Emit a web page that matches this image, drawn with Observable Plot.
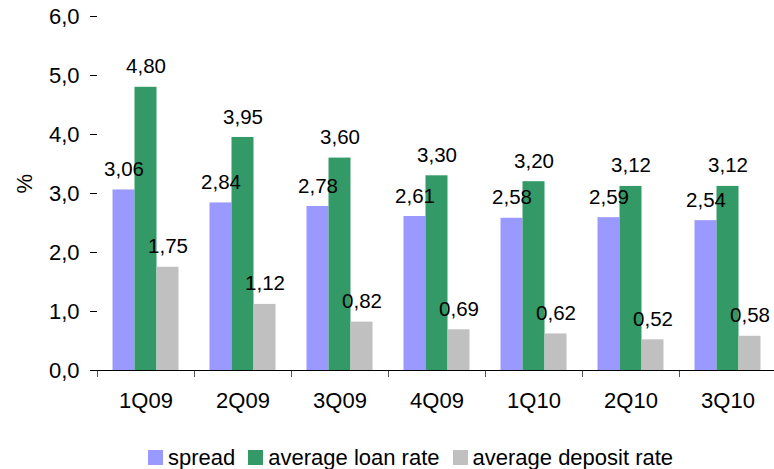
<!DOCTYPE html>
<html>
<head>
<meta charset="utf-8">
<script src="https://cdn.jsdelivr.net/npm/d3@7"></script>
<script src="https://cdn.jsdelivr.net/npm/@observablehq/plot@0.6"></script>
<style>
  html, body { margin: 0; padding: 0; background: #fff; overflow: hidden; }
  #chart { position: relative; width: 774px; height: 469px; }
  #legend { position: absolute; left: 148px; top: 441px; margin: 0 !important; line-height: 1; }
  .lg-swatch { margin-right: 13px !important; line-height: 1; }
  .lg-swatch > svg { margin-right: 5px !important; }
</style>
</head>
<body>
<div id="chart"></div>
<script>
const categories = ["1Q09", "2Q09", "3Q09", "4Q09", "1Q10", "2Q10", "3Q10"];
const spread = [3.06, 2.84, 2.78, 2.61, 2.58, 2.59, 2.54];
const loanRate = [4.80, 3.95, 3.60, 3.30, 3.20, 3.12, 3.12];
const depositRate = [1.75, 1.12, 0.82, 0.69, 0.62, 0.52, 0.58];
const seriesNames = ["spread", "average loan rate", "average deposit rate"];
const seriesColors = ["#9999FF", "#339966", "#C0C0C0"];
const yTicks = [0, 1, 2, 3, 4, 5, 6];
const yTitle = "%";

const seriesValues = [spread, loanRate, depositRate];
const fmt = d => d.toFixed(2).replace(".", ",");
const font = "'Liberation Sans', Arial, sans-serif";
const axisFs = 22;
const labelFs = 20.5;

const bandWidth = 97;
const barWidth = 22;
const inset = (bandWidth - barWidth) / 2;

const barMarks = [];
const labelMarks = [];
seriesValues.forEach((vals, s) => {
  const rows = categories.map((c, i) => ({cat: c, value: vals[i]}));
  const dx = (s - 1) * barWidth;
  barMarks.push(Plot.barY(rows, {
    x: "cat", y: "value", fill: seriesColors[s],
    insetLeft: inset, insetRight: inset, dx
  }));
  labelMarks.push(Plot.text(rows, {
    x: "cat", y: "value", text: d => fmt(d.value),
    dx, dy: -20.5, fill: "#000", fontSize: labelFs
  }));
});

const marks = [
  ...barMarks,
  ...labelMarks,
  // category boundary tick marks on the x axis
  Plot.ruleX(categories, {x: d => d, dx: -bandWidth / 2, y1: 0, y2: -0.12, stroke: "#555"}),
  Plot.ruleY([0], {stroke: "#000"}),
  Plot.axisX({tickSize: 0, tickPadding: 22, fontSize: axisFs, label: null}),
  Plot.axisY({
    ticks: yTicks, tickFormat: d => d.toFixed(1).replace(".", ","),
    tickSize: 7, tickPadding: 11, fontSize: axisFs, label: null, line: true, stroke: "#000"
  }),
  Plot.text([yTitle], {text: d => d, frameAnchor: "left", dx: -73, rotate: -90, fontSize: axisFs, fill: "#000"})
];

const chart = Plot.plot({
  width: 774,
  height: 438,
  marginLeft: 97,
  marginRight: -2,
  marginTop: 16,
  marginBottom: 68,
  style: {fontFamily: font, fontSize: axisFs + "px", color: "#000", background: "#fff"},
  x: {type: "band", domain: categories, padding: 0},
  y: {domain: [0, 6]},
  marks
});

const legend = Plot.legend({
  color: {type: "ordinal", domain: seriesNames, range: seriesColors},
  swatchSize: 15,
  className: "lg",
  style: {fontFamily: font, fontSize: "22px", color: "#000"}
});
legend.id = "legend";

const root = document.getElementById("chart");
root.appendChild(chart);
root.appendChild(legend);
</script>
</body>
</html>
